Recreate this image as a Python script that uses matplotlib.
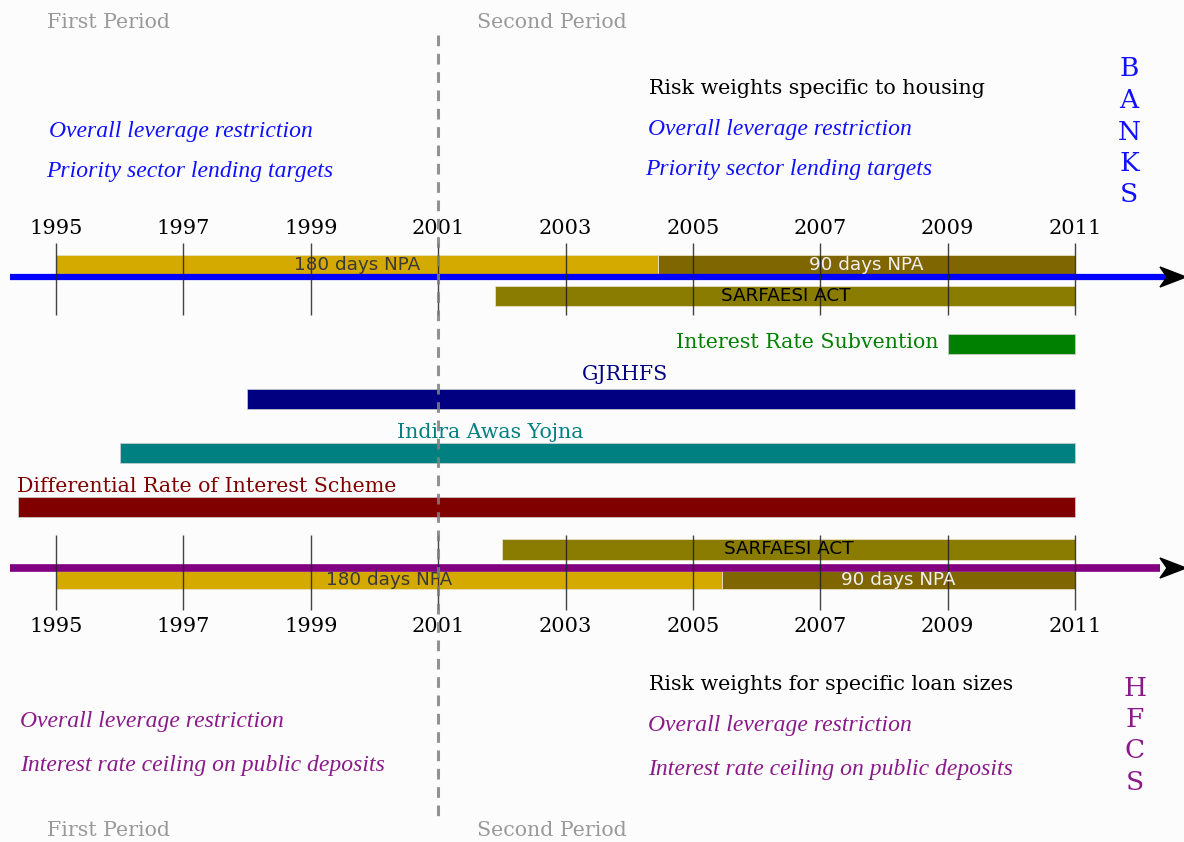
import matplotlib
matplotlib.use("Agg")
import matplotlib.pyplot as plt
from matplotlib.patches import Polygon

# ---------------- data ----------------
tick_years = [1995, 1997, 1999, 2001, 2003, 2005, 2007, 2009, 2011]
period_split = 2001

bank_npa180 = (1995, 2004.45)
bank_npa90 = (2004.45, 2011)
bank_sarfaesi = (2001.9, 2011)

scheme_names = ["Interest Rate Subvention", "GJRHFS", "Indira Awas Yojna",
                "Differential Rate of Interest Scheme"]
scheme_start = [2009, 1998, 1996, 1994.4]
scheme_end = [2011, 2011, 2011, 2011]
scheme_colors = ["#008000", "#000080", "#008080", "#800000"]

hfc_sarfaesi = (2002, 2011)
hfc_npa180 = (1995, 2005.45)
hfc_npa90 = (2005.45, 2011)

banks_first = ["Overall leverage restriction", "Priority sector lending targets"]
banks_second = ["Risk weights specific to housing", "Overall leverage restriction",
                "Priority sector lending targets"]
hfc_first = ["Overall leverage restriction", "Interest rate ceiling on public deposits"]
hfc_second = ["Risk weights for specific loan sizes", "Overall leverage restriction",
              "Interest rate ceiling on public deposits"]

# ---------------- layout ----------------
W, H = 1184, 842
PX0, PXY = 56.0, 63.69  # pixel of 1995, pixels per year


def px(xp):
    return 1995 + (xp - PX0) / PXY


fig = plt.figure(figsize=(W / 100, H / 100), dpi=100, facecolor="#fcfcfc")
ax = fig.add_axes([0, 0, 1, 1])
ax.set_xlim(px(0), px(W))
ax.set_ylim(H, 0)
ax.axis("off")
ax.set_facecolor("#fcfcfc")

GOLD, DARK, OLIVE = "#d4aa00", "#806600", "#8a7c00"
SERIF = "DejaVu Serif"
ITAL = dict(family="Liberation Serif", style="italic", fontsize=17)
BLUE, PURPLE = "#1010ff", "#8a1a8a"
LBL = 14.8


def bar(span, yc, h, color, label=None, tcolor="black", z=2):
    ax.barh(yc, span[1] - span[0], left=span[0], height=h, color=color,
            edgecolor="#e8e0c0", linewidth=0.6, zorder=z)
    if label:
        ax.text((span[0] + span[1]) / 2, yc, label, ha="center", va="center",
                family="DejaVu Sans", fontsize=13.2, color=tcolor, zorder=6)


# ---- banks timeline ----
ax.plot([px(10), px(1168)], [277, 277], color="#0000ff", lw=4.5, zorder=3,
        solid_capstyle="butt")
ax.add_patch(Polygon([(px(1160), 267), (px(1186), 277), (px(1160), 287), (px(1167), 277)],
                     closed=True, color="black", zorder=4))
bar(bank_npa180, 265, 21, GOLD, "180 days NPA", "#3a3a3a")
bar(bank_npa90, 265, 21, DARK, "90 days NPA", "#f0f0f0")
bar(bank_sarfaesi, 296, 20, OLIVE, "SARFAESI ACT", "black")
ax.vlines(tick_years, 243, 315, color="#222222", lw=1, zorder=5, alpha=0.85)
for y in tick_years:
    ax.text(y, 228, str(y), ha="center", va="center", family=SERIF, fontsize=15)

# ---- schemes ----
scheme_y = [343.5, 398.5, 452.5, 507]
for i, (n, s, e, c) in enumerate(zip(scheme_names, scheme_start, scheme_end, scheme_colors)):
    ax.barh(scheme_y[i], e - s, left=s, height=20, color=c, zorder=2,
            edgecolor="#d0d0d0", linewidth=0.5)
ax.text(px(938), 343, scheme_names[0], ha="right", va="center", family=SERIF,
        fontsize=LBL, color=scheme_colors[0])
ax.text(px(625), 375, scheme_names[1], ha="center", va="center", family=SERIF,
        fontsize=LBL, color=scheme_colors[1])
ax.text(px(490), 432, scheme_names[2], ha="center", va="center", family=SERIF,
        fontsize=LBL, color=scheme_colors[2])
ax.text(px(17), 487, scheme_names[3], ha="left", va="center", family=SERIF,
        fontsize=LBL, color=scheme_colors[3])

# ---- HFC timeline ----
bar(hfc_sarfaesi, 549.5, 21, OLIVE, "SARFAESI ACT", "black")
bar(hfc_npa180, 580, 18, GOLD, "180 days NPA", "#3a3a3a")
bar(hfc_npa90, 580, 18, DARK, "90 days NPA", "#f0f0f0")
ax.plot([px(10), px(1160)], [568, 568], color="#800080", lw=5.5, zorder=3,
        solid_capstyle="butt")
ax.add_patch(Polygon([(px(1160), 558), (px(1186), 568), (px(1160), 578), (px(1167), 568)],
                     closed=True, color="black", zorder=4))
ax.vlines(tick_years, 535, 610, color="#222222", lw=1, zorder=5, alpha=0.85)
for y in tick_years:
    ax.text(y, 627, str(y), ha="center", va="center", family=SERIF, fontsize=15)

# ---- period divider ----
ax.plot([period_split, period_split], [35, 822], color="#808080", lw=2.2,
        ls=(0, (3.5, 2.5)), alpha=0.85, zorder=7)
for yy in (22, 830):
    ax.text(px(47), yy, "First Period", ha="left", va="center", family=SERIF,
            fontsize=14.8, color="#999999")
    ax.text(px(477), yy, "Second Period", ha="left", va="center", family=SERIF,
            fontsize=14.8, color="#999999")

# ---- banks policy texts ----
ax.text(px(49), 131, banks_first[0], ha="left", va="center", color=BLUE, **ITAL)
ax.text(px(46), 171, banks_first[1], ha="left", va="center", color=BLUE, **ITAL)
ax.text(px(649), 88, banks_second[0], ha="left", va="center", family=SERIF,
        fontsize=14.9, color="black")
ax.text(px(648), 130, banks_second[1], ha="left", va="center", color=BLUE, **ITAL)
ax.text(px(645), 170, banks_second[2], ha="left", va="center", color=BLUE, **ITAL)
for i, ch in enumerate("BANKS"):
    ax.text(px(1129), 69 + i * 31.5, ch, ha="center", va="center", family=SERIF,
            fontsize=19, color=BLUE)

# ---- HFC policy texts ----
ax.text(px(20), 722, hfc_first[0], ha="left", va="center", color=PURPLE, **ITAL)
ax.text(px(20), 765, hfc_first[1], ha="left", va="center", color=PURPLE, **ITAL)
ax.text(px(649), 685, hfc_second[0], ha="left", va="center", family=SERIF,
        fontsize=14.9, color="black")
ax.text(px(648), 726, hfc_second[1], ha="left", va="center", color=PURPLE, **ITAL)
ax.text(px(648), 769, hfc_second[2], ha="left", va="center", color=PURPLE, **ITAL)
for i, ch in enumerate("HFCS"):
    ax.text(px(1135), 688 + i * 31.5, ch, ha="center", va="center", family=SERIF,
            fontsize=19, color=PURPLE)

fig.savefig("out.png", dpi=100, facecolor=fig.get_facecolor())
